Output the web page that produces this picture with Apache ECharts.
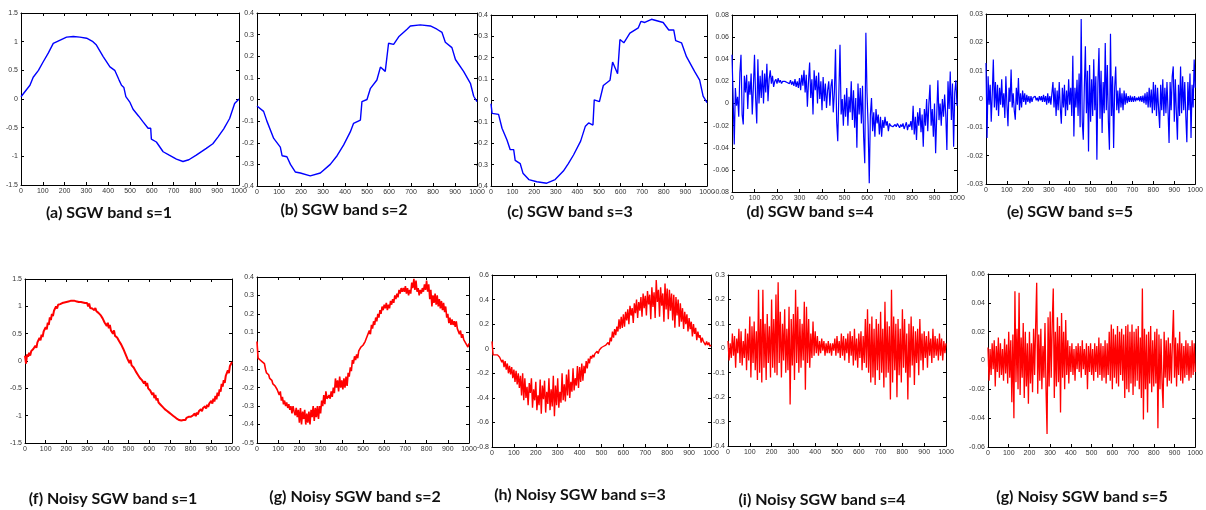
<!DOCTYPE html>
<html><head><meta charset="utf-8">
<script src="https://cdn.jsdelivr.net/npm/echarts@6/dist/echarts.min.js"></script>
<style>html,body{margin:0;padding:0;background:#fff}#c{width:1206px;height:510px}</style>
</head><body><div id="c"></div>
<script>
// ---- sample index axis ----
const xTicks = [0,100,200,300,400,500,600,700,800,900,1000];

// ---- (a) SGW band s=1 (x, y keypoints) ----
const bandA_x = [0,41,56,80,102,125,148,175,209,240,270,301,330,346,377,408,430,450,461,472,481,500,514,540,560,583,595,598,621,652,680,713,743,770,804,850,880,904,930,957,980,1000];
const bandA_y = [0.04,0.24,0.38,0.5,0.65,0.8,0.97,1.02,1.08,1.09,1.08,1.06,1.0,0.94,0.74,0.56,0.5,0.33,0.24,0.2,0.04,-0.06,-0.18,-0.3,-0.4,-0.51,-0.51,-0.7,-0.75,-0.92,-0.98,-1.05,-1.09,-1.06,-0.98,-0.86,-0.78,-0.66,-0.52,-0.34,-0.08,0.0];

// ---- (b) SGW band s=2 ----
const bandB_x = [0,30,45,76,106,114,136,152,174,197,242,288,333,364,394,424,439,470,477,500,515,545,561,583,598,621,644,682,697,742,788,818,841,856,886,902,939,970,985,1000];
const bandB_y = [-0.03,-0.055,-0.1,-0.18,-0.22,-0.26,-0.265,-0.3,-0.335,-0.34,-0.353,-0.34,-0.3,-0.26,-0.21,-0.15,-0.11,-0.095,-0.01,0.0,0.05,0.09,0.15,0.13,0.26,0.255,0.29,0.325,0.34,0.345,0.34,0.325,0.31,0.265,0.24,0.185,0.13,0.075,0.015,-0.01];

// ---- (c) SGW band s=3 ----
const bandC_x = [0,5,35,51,74,89,105,112,135,148,175,212,258,297,335,358,382,415,437,452,472,478,502,520,551,563,586,597,615,643,682,694,712,743,797,823,846,855,882,905,943,966,982,1000];
const bandC_y = [-0.015,-0.06,-0.065,-0.13,-0.185,-0.23,-0.23,-0.28,-0.295,-0.34,-0.37,-0.38,-0.387,-0.37,-0.33,-0.295,-0.255,-0.19,-0.12,-0.105,-0.115,0.003,-0.005,0.07,0.095,0.18,0.125,0.285,0.27,0.315,0.34,0.37,0.365,0.38,0.365,0.33,0.33,0.28,0.27,0.205,0.135,0.095,0.02,-0.01];

// ---- (d) SGW band s=4 (every 5th sample) ----
const bandD = [
0.044,0.005,-0.037,0.014,-0.002,0.006,-0.012,0.028,0.044,-0.01,-0.019,0.025,0.01,0.026,-0.005,0.02,0.008,0.027,-0.01,0.015,
0.044,0.005,-0.018,0.04,0.0,0.025,0.005,0.03,0.0,0.027,0.01,0.036,0.002,0.022,0.03,0.018,0.025,0.015,0.02,0.022,
0.018,0.023,0.019,0.021,0.018,0.02,0.019,0.02,0.021,0.019,0.02,0.018,0.021,0.017,0.02,0.016,0.022,0.015,0.02,0.014,
0.023,0.012,0.026,0.016,0.03,0.01,0.026,-0.003,0.02,0.037,0.005,0.022,-0.01,0.03,0.012,0.025,0.0,0.028,0.004,0.02,
-0.006,0.024,0.002,0.018,-0.004,0.012,0.02,-0.002,0.016,0.022,-0.008,0.01,0.049,-0.015,-0.034,0.01,0.053,-0.01,0.004,-0.02,
0.008,-0.012,0.014,-0.02,0.006,-0.008,0.02,-0.015,0.012,-0.022,0.005,-0.04,0.018,-0.01,0.014,-0.018,0.016,-0.03,-0.054,0.064,
0.01,-0.02,-0.072,-0.01,0.005,-0.025,-0.008,-0.03,-0.005,-0.018,-0.01,-0.028,-0.012,-0.03,-0.015,-0.022,-0.012,-0.02,-0.016,-0.025,
-0.018,-0.02,-0.019,-0.021,-0.02,-0.019,-0.021,-0.018,-0.02,-0.022,-0.019,-0.021,-0.018,-0.023,-0.02,-0.017,-0.024,-0.019,-0.021,-0.016,
-0.024,-0.002,-0.028,-0.012,-0.033,-0.008,-0.02,-0.004,-0.026,-0.01,-0.039,-0.005,-0.02,0.004,-0.025,0.0,0.017,-0.02,-0.005,-0.03,
0.0,-0.045,-0.01,0.021,-0.015,0.0,-0.02,0.004,-0.012,0.008,-0.01,-0.042,0.02,-0.005,0.029,-0.015,0.018,-0.039,0.01,0.021,
-0.002];

// ---- (e) SGW band s=5 ----
const bandE = [
0.0127,-0.0138,0.008,-0.002,0.005,-0.008,0.002,0.0139,-0.003,0.006,-0.004,0.005,-0.006,0.004,-0.002,0.007,-0.003,0.002,-0.0067,0.008,
-0.002,-0.0096,0.004,-0.001,0.0104,-0.003,0.002,-0.004,-0.0073,0.004,-0.002,0.0074,-0.004,0.002,-0.003,0.003,-0.001,0.002,-0.002,0.0015,
-0.001,0.001,-0.0015,0.001,-0.001,0.0005,0.0,0.001,-0.0005,0.0005,-0.0008,0.001,-0.0005,0.001,-0.001,0.0015,-0.001,0.001,-0.002,0.002,
-0.0015,0.001,-0.002,0.002,0.006,-0.003,0.004,-0.006,0.003,-0.004,0.006,-0.003,-0.0087,0.004,-0.003,0.005,-0.006,0.003,-0.004,0.007,
-0.002,0.004,-0.006,0.0153,-0.0132,0.004,-0.003,0.0068,-0.006,0.009,-0.01,0.0282,-0.008,-0.0144,0.004,0.0186,-0.005,0.01,-0.0185,0.012,
-0.008,0.007,-0.006,0.014,-0.004,0.008,-0.0214,0.006,0.018,-0.007,0.01,-0.012,0.006,-0.005,0.0198,-0.004,0.012,-0.008,-0.0179,0.023,
-0.006,0.008,-0.0173,0.004,0.0115,-0.004,0.003,-0.005,0.004,-0.003,0.002,-0.004,0.003,-0.002,0.002,-0.0015,0.001,-0.001,0.0012,-0.001,
0.0008,-0.001,0.001,-0.0008,0.0005,-0.0005,0.0008,-0.0008,0.001,-0.001,0.0012,-0.0015,0.002,-0.002,0.0025,-0.003,0.004,-0.003,0.0033,-0.005,
0.006,-0.004,0.005,-0.006,0.004,-0.0035,-0.0102,0.005,-0.004,0.007,-0.006,0.004,-0.005,0.006,-0.004,-0.0155,0.006,-0.004,0.008,0.0115,
-0.008,0.007,-0.005,-0.0144,0.005,-0.006,0.0115,-0.005,0.008,-0.004,0.006,-0.006,-0.0153,0.006,-0.004,0.009,-0.0138,0.005,-0.003,0.0139,
0.004];

// ---- (f) Noisy SGW band s=1 ----
const noisyA = [
0.1,-0.05,0.12,0.08,0.15,0.1,0.18,0.15,0.22,0.19,0.28,0.24,0.34,0.31,0.42,0.38,0.48,0.44,0.54,0.52,
0.62,0.58,0.7,0.66,0.8,0.75,0.86,0.82,0.92,0.9,1.0,0.96,1.03,1.0,1.04,1.02,1.06,1.04,1.07,1.05,
1.08,1.06,1.09,1.07,1.1,1.07,1.1,1.07,1.1,1.08,1.09,1.07,1.08,1.05,1.08,1.05,1.07,1.04,1.06,1.03,
1.06,1.0,1.05,0.97,1.0,0.96,0.99,0.93,0.97,0.91,0.93,0.88,0.9,0.84,0.85,0.78,0.79,0.7,0.73,0.64,
0.7,0.6,0.66,0.56,0.59,0.5,0.56,0.46,0.48,0.43,0.42,0.36,0.36,0.3,0.29,0.22,0.23,0.13,0.15,0.04,
0.06,-0.04,0.02,-0.08,-0.05,-0.12,-0.11,-0.19,-0.17,-0.25,-0.24,-0.31,-0.28,-0.35,-0.33,-0.41,-0.37,-0.46,-0.4,-0.5,
-0.49,-0.54,-0.53,-0.62,-0.58,-0.68,-0.62,-0.72,-0.68,-0.76,-0.73,-0.8,-0.77,-0.84,-0.81,-0.88,-0.85,-0.91,-0.88,-0.94,
-0.91,-0.97,-0.94,-1.0,-0.97,-1.03,-1.0,-1.06,-1.03,-1.08,-1.06,-1.09,-1.06,-1.08,-1.05,-1.08,-1.04,-1.07,-1.02,-1.05,
-1.02,-1.04,-1.0,-1.03,-0.96,-1.01,-0.94,-0.98,-0.92,-0.95,-0.88,-0.92,-0.86,-0.88,-0.83,-0.87,-0.8,-0.84,-0.78,-0.8,
-0.73,-0.78,-0.69,-0.74,-0.64,-0.7,-0.58,-0.64,-0.52,-0.56,-0.42,-0.47,-0.35,-0.4,-0.27,-0.3,-0.17,-0.22,-0.09,-0.12,
-0.02];

// ---- (g) Noisy SGW band s=2 ----
const noisyB = [
0.05,-0.04,-0.03,-0.05,-0.04,-0.06,-0.05,-0.07,-0.1,-0.12,-0.11,-0.13,-0.15,-0.14,-0.16,-0.18,-0.17,-0.19,-0.18,-0.21,
-0.2,-0.24,-0.22,-0.27,-0.25,-0.29,-0.27,-0.3,-0.28,-0.31,-0.29,-0.32,-0.3,-0.34,-0.3,-0.33,-0.35,-0.31,-0.36,-0.32,
-0.39,-0.31,-0.4,-0.33,-0.37,-0.32,-0.4,-0.34,-0.39,-0.33,-0.4,-0.32,-0.36,-0.3,-0.38,-0.31,-0.36,-0.3,-0.37,-0.3,
-0.34,-0.27,-0.3,-0.24,-0.29,-0.22,-0.26,-0.27,-0.24,-0.26,-0.22,-0.25,-0.2,-0.23,-0.15,-0.2,-0.16,-0.22,-0.14,-0.2,
-0.16,-0.21,-0.15,-0.2,-0.14,-0.19,-0.12,-0.14,-0.09,-0.11,-0.05,-0.07,-0.03,-0.05,-0.02,-0.04,0.0,-0.01,0.02,0.01,
0.03,0.02,0.05,0.04,0.08,0.07,0.11,0.09,0.14,0.12,0.16,0.14,0.18,0.16,0.2,0.18,0.22,0.2,0.24,0.22,
0.25,0.23,0.26,0.22,0.25,0.23,0.27,0.25,0.28,0.26,0.3,0.28,0.31,0.29,0.33,0.31,0.34,0.32,0.34,0.32,
0.35,0.31,0.34,0.3,0.33,0.31,0.37,0.34,0.39,0.33,0.38,0.32,0.34,0.3,0.33,0.31,0.34,0.32,0.36,0.33,
0.38,0.32,0.36,0.28,0.33,0.24,0.3,0.26,0.31,0.25,0.3,0.24,0.28,0.23,0.27,0.22,0.26,0.21,0.24,0.18,
0.2,0.15,0.18,0.14,0.17,0.14,0.16,0.13,0.16,0.12,0.13,0.09,0.11,0.07,0.09,0.06,0.07,0.04,0.05,0.02,
0.04];

// ---- (h) Noisy SGW band s=3 ----
const noisyC = [
0.06,-0.05,-0.04,-0.05,-0.04,-0.05,-0.05,-0.07,-0.06,-0.11,-0.09,-0.15,-0.1,-0.17,-0.12,-0.2,-0.14,-0.21,-0.15,-0.24,
-0.17,-0.27,-0.18,-0.29,-0.2,-0.32,-0.22,-0.38,-0.2,-0.42,-0.24,-0.4,-0.31,-0.46,-0.28,-0.36,-0.24,-0.48,-0.33,-0.42,
-0.27,-0.5,-0.38,-0.46,-0.25,-0.53,-0.3,-0.41,-0.26,-0.52,-0.35,-0.45,-0.24,-0.5,-0.33,-0.47,-0.22,-0.55,-0.3,-0.46,
-0.24,-0.48,-0.35,-0.44,-0.2,-0.42,-0.29,-0.43,-0.21,-0.38,-0.17,-0.4,-0.27,-0.35,-0.16,-0.34,-0.24,-0.3,-0.14,-0.32,
-0.15,-0.27,-0.12,-0.26,-0.14,-0.2,-0.1,-0.16,-0.08,-0.12,-0.06,-0.08,-0.05,-0.07,-0.04,-0.05,-0.02,-0.04,-0.01,-0.02,
0.01,0.0,0.02,0.01,0.03,0.02,0.05,0.03,0.09,0.06,0.14,0.09,0.16,0.11,0.18,0.14,0.24,0.16,0.26,0.17,
0.28,0.18,0.3,0.23,0.32,0.2,0.35,0.27,0.33,0.21,0.37,0.29,0.4,0.25,0.38,0.31,0.42,0.26,0.45,0.33,
0.43,0.27,0.47,0.36,0.44,0.24,0.5,0.34,0.46,0.25,0.56,0.38,0.48,0.26,0.5,0.35,0.45,0.22,0.53,0.32,
0.49,0.24,0.48,0.31,0.45,0.23,0.44,0.17,0.42,0.27,0.4,0.18,0.37,0.22,0.33,0.16,0.3,0.2,0.28,0.14,
0.25,0.16,0.22,0.1,0.2,0.12,0.17,0.07,0.14,0.09,0.11,0.05,0.09,0.06,0.07,0.03,0.06,0.03,0.05,0.02,
0.03];

// ---- (i) Noisy SGW band s=4 ----
const noisyD = [
0.03,-0.05,0.02,-0.04,0.06,-0.03,0.05,-0.08,0.04,-0.02,0.08,-0.06,0.07,-0.07,0.03,-0.04,0.08,-0.09,0.06,-0.05,
0.13,-0.12,0.09,-0.06,0.11,-0.09,0.07,-0.13,0.24,-0.1,0.12,-0.14,0.24,-0.08,0.1,-0.13,0.14,-0.06,0.09,-0.12,
0.2,-0.08,0.12,-0.1,0.22,-0.11,0.27,-0.06,0.15,-0.12,0.1,-0.05,0.16,-0.1,0.08,-0.09,0.17,-0.23,0.12,-0.07,
0.14,-0.13,0.24,-0.06,0.17,-0.1,0.12,-0.08,0.1,-0.05,0.19,-0.17,0.17,-0.06,0.12,-0.08,0.06,-0.04,0.11,-0.03,
0.07,-0.02,0.05,-0.03,0.03,-0.02,0.04,-0.01,0.03,-0.03,0.02,-0.02,0.03,-0.02,0.02,-0.03,0.02,-0.01,0.04,-0.03,
0.05,-0.02,0.03,-0.04,0.06,-0.03,0.05,-0.05,0.04,-0.02,0.06,-0.06,0.07,-0.03,0.05,-0.07,0.08,-0.05,0.04,-0.08,
0.06,-0.04,0.07,-0.09,0.05,-0.06,0.12,-0.08,0.16,-0.1,0.1,-0.14,0.13,-0.12,0.08,-0.15,0.12,-0.09,0.1,-0.13,
0.15,-0.1,0.08,-0.16,0.19,-0.12,0.11,-0.1,0.09,-0.21,0.24,-0.14,0.13,-0.09,0.1,-0.2,0.12,-0.11,0.08,-0.14,
0.16,-0.08,0.12,-0.1,0.06,-0.21,0.1,-0.12,0.13,-0.07,0.09,-0.15,0.07,-0.06,0.08,-0.11,0.12,-0.05,0.06,-0.09,
0.07,-0.04,0.05,-0.08,0.07,-0.03,0.04,-0.06,0.08,-0.04,0.05,-0.03,0.04,-0.05,0.06,-0.03,0.04,-0.05,0.03,-0.02,
0.02];

// ---- (j) Noisy SGW band s=5 ----
const noisyE = [
0.009,-0.014,0.008,-0.01,0.012,-0.006,0.014,-0.018,0.01,-0.008,0.016,-0.012,0.012,-0.01,0.008,-0.014,0.015,-0.009,0.011,-0.016,
0.02,-0.012,0.014,-0.029,0.018,-0.04,0.048,-0.015,0.022,-0.02,0.047,-0.024,0.016,-0.012,0.026,-0.026,0.02,-0.018,0.012,-0.03,
0.02,-0.016,0.012,-0.022,0.022,-0.01,0.024,0.054,-0.023,0.018,-0.014,0.022,-0.02,0.01,-0.012,0.026,-0.02,-0.051,0.03,-0.018,
0.034,-0.012,0.026,0.05,-0.026,0.02,-0.018,0.03,-0.015,0.024,-0.036,0.033,-0.012,0.02,-0.02,0.028,-0.01,0.014,-0.016,0.01,
-0.008,0.012,-0.01,0.008,-0.014,0.01,-0.006,0.012,-0.008,0.01,-0.012,0.014,-0.006,0.008,-0.01,0.012,-0.02,0.01,-0.008,0.012,
-0.01,0.008,-0.014,0.012,-0.008,0.01,-0.012,0.016,-0.01,0.012,-0.014,0.01,-0.012,0.014,-0.016,0.012,-0.01,0.02,-0.014,0.025,
-0.02,0.022,-0.012,0.018,-0.016,0.024,-0.018,0.02,-0.01,0.022,-0.014,0.018,-0.026,0.024,-0.02,0.025,-0.022,0.02,-0.016,0.025,
-0.024,0.02,-0.018,0.022,-0.014,0.024,-0.02,0.016,-0.026,0.05,-0.041,0.022,-0.02,0.018,-0.036,0.02,-0.016,0.024,-0.022,0.014,
-0.018,0.02,-0.016,0.022,-0.047,0.018,-0.02,0.015,-0.016,-0.033,0.02,-0.012,0.014,-0.018,0.016,-0.014,0.012,-0.016,0.014,0.035,
-0.012,0.016,-0.018,0.012,-0.01,0.02,-0.014,0.012,-0.016,0.01,-0.012,0.014,-0.01,0.012,-0.014,0.01,-0.012,0.014,-0.01,0.012,
-0.008];

// ---- per-panel settings ----
const captions = ['(a) SGW band s=1','(b) SGW band s=2','(c) SGW band s=3','(d) SGW band s=4','(e) SGW band s=5',
  '(f) Noisy SGW band s=1','(g) Noisy SGW band s=2','(h) Noisy SGW band s=3','(i) Noisy SGW band s=4','(g) Noisy SGW band s=5'];
const yMin = [-1.5,-0.4,-0.4,-0.08,-0.03,-1.5,-0.5,-0.8,-0.4,-0.06];
const yMax = [1.5,0.4,0.4,0.08,0.03,1.5,0.4,0.6,0.3,0.06];
const yStep = [0.5,0.1,0.1,0.02,0.01,0.5,0.1,0.2,0.1,0.02];

// layout (pixels)
const grids = [
  [21,13,218,172],[257,13,220,173],[491,15,216,171],[732,15,225,177],[986,14,218,170],
  [25,279,207,164],[257,277,212,166],[492,275,219,172],[728,275,218,171],[988,274,217,173]];
const capPos = [[109,213],[344,210],[570,212],[810,212],[1070,212],[113,499],[355,497],[580,495],[822,500],[1082,497]];
const lineWidths = [1.4,1.4,1.4,1.2,1.2,2.0,1.6,1.4,1.3,1.3];

function pairs(xs, ys){ return ys.map((v,i)=>[xs[i],v]); }
function evenPairs(ys){ const n=ys.length; return ys.map((v,i)=>[i*1000/(n-1), v]); }

const seriesData = [
  pairs(bandA_x,bandA_y), pairs(bandB_x,bandB_y), pairs(bandC_x,bandC_y), evenPairs(bandD), evenPairs(bandE),
  evenPairs(noisyA), evenPairs(noisyB), evenPairs(noisyC), evenPairs(noisyD), evenPairs(noisyE)];

const fmt = v => String(+(+v).toFixed(4));
const lblStyle = {fontSize:7, color:'#333', fontFamily:'Liberation Sans', margin:3};
const lineS = {show:true, onZero:false, lineStyle:{color:'#000', width:1}};
const tickS = {show:true, inside:true, length:3, lineStyle:{color:'#000', width:1}};

const grid=[], xAxis=[], yAxis=[], series=[];
for (let k=0;k<10;k++){
  const g=grids[k];
  grid.push({left:g[0], top:g[1], width:g[2], height:g[3], containLabel:false});
  xAxis.push({type:'value', gridIndex:k, position:'bottom', min:0, max:1000, interval:100,
    axisLine:lineS, axisTick:tickS, splitLine:{show:false},
    axisLabel:Object.assign({formatter:fmt, showMinLabel:true, showMaxLabel:true}, lblStyle)});
  xAxis.push({type:'value', gridIndex:k, position:'top', min:0, max:1000, interval:100,
    axisLine:lineS, axisTick:tickS, splitLine:{show:false}, axisLabel:{show:false}});
  yAxis.push({type:'value', gridIndex:k, position:'left', min:yMin[k], max:yMax[k], interval:yStep[k],
    axisLine:lineS, axisTick:tickS, splitLine:{show:false},
    axisLabel:Object.assign({formatter:fmt, showMinLabel:true, showMaxLabel:true}, lblStyle)});
  yAxis.push({type:'value', gridIndex:k, position:'right', min:yMin[k], max:yMax[k], interval:yStep[k],
    axisLine:lineS, axisTick:tickS, splitLine:{show:false}, axisLabel:{show:false}});
  const red = k>=5;
  series.push({type:'line', xAxisIndex:2*k, yAxisIndex:2*k, data:seriesData[k], symbol:'none', showSymbol:false,
    lineStyle:{color: red?'#ff0000':'#0000ff', width: lineWidths[k]}, itemStyle:{color: red?'#ff0000':'#0000ff'},
    animation:false, clip:true});
}
const gElems = captions.map((t,k)=>({type:'text', x:capPos[k][0], y:capPos[k][1], z:10,
  style:{text:t, align:'center', verticalAlign:'middle', fontFamily:'Lato', fontWeight:'bold', fontSize:16, fill:'#111'}}));

const chart = echarts.init(document.getElementById('c'), null, {renderer:'canvas'});
chart.setOption({animation:false, backgroundColor:'#fff', grid, xAxis, yAxis, series, graphic:gElems});
</script></body></html>
